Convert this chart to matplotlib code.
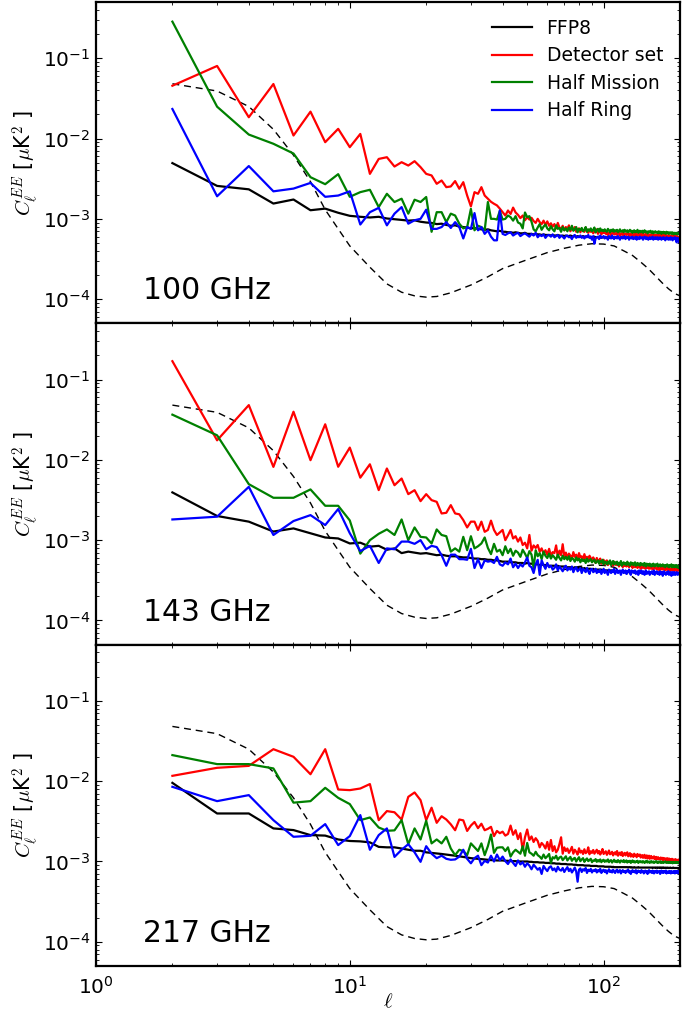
import numpy as np
import matplotlib
matplotlib.use("Agg")
import matplotlib.pyplot as plt

# all spectra below are in units of 1e-4 uK^2, one value per multipole l = 2..200
UNIT = 1e-4

# 100 GHz
ffp8_100 = [
    49.4, 25.7, 23.3, 15.5, 17.4, 12.8, 13.4, 11.9, 10.9, 10.6,
    10.4, 10.6, 10.1, 9.9, 9.7, 9.5, 9.6, 9.2, 9.0, 8.9,
    8.6, 8.7, 8.4, 8.2, 8.3, 8.0, 7.9, 7.8, 7.6, 7.7,
    7.5, 7.4, 7.3, 7.4, 7.2, 7.1, 7.0, 7.1, 6.9, 6.9,
    6.8, 6.8, 6.7, 6.8, 6.7, 6.6, 6.6, 6.7, 6.5, 6.5,
    6.5, 6.4, 6.5, 6.4, 6.4, 6.3, 6.4, 6.3, 6.3, 6.3,
    6.2, 6.3, 6.2, 6.2, 6.3, 6.2, 6.1, 6.2, 6.1, 6.2,
    6.1, 6.1, 6.2, 6.1, 6.0, 6.1, 6.0, 6.1, 6.0, 6.0,
    6.0, 6.1, 6.0, 5.9, 6.0, 6.0, 5.9, 6.0, 5.9, 5.9,
    6.0, 5.9, 5.9, 5.9, 6.0, 5.9, 5.8, 5.9, 5.9, 5.8,
    5.9, 5.8, 5.9, 5.8, 5.9, 5.8, 5.8, 5.9, 5.8, 5.8,
    5.8, 5.9, 5.8, 5.8, 5.8, 5.9, 5.8, 5.8, 5.8, 5.8,
    5.9, 5.8, 5.8, 5.8, 5.9, 5.8, 5.8, 5.9, 5.8, 5.8,
    5.8, 5.9, 5.8, 5.8, 5.9, 5.8, 5.8, 5.8, 5.9, 5.8,
    5.8, 5.9, 5.8, 5.8, 5.8, 5.9, 5.8, 5.8, 5.9, 5.8,
    5.8, 5.8, 5.9, 5.8, 5.8, 5.9, 5.8, 5.8, 5.8, 5.9,
    5.8, 5.8, 5.9, 5.8, 5.8, 5.8, 5.9, 5.8, 5.8, 5.9,
    5.8, 5.8, 5.8, 5.9, 5.8, 5.8, 5.9, 5.8, 5.8, 5.8,
    5.9, 5.8, 5.8, 5.9, 5.8, 5.8, 5.8, 5.9, 5.8, 5.8,
    5.9, 5.8, 5.8, 5.8, 5.9, 5.8, 5.8, 5.9, 5.8]
det_100 = [
    454, 800, 184, 477, 109, 216, 90, 132, 78, 114,
    36.3, 55.7, 58.5, 44.8, 50.7, 46.1, 52.2, 44.0, 36.3, 34.7,
    27.3, 30.0, 24.8, 25.3, 29.5, 23.7, 28.6, 19.5, 14.3, 21.5,
    20.5, 24.8, 19.5, 17.8, 16.3, 15.4, 14.7, 13.4, 12.1, 11.0,
    12.7, 11.5, 13.8, 12.0, 11.2, 10.2, 11.0, 9.6, 10.5, 9.8,
    10.3, 9.4, 8.9, 10.0, 9.1, 8.6, 9.5, 8.4, 9.3, 8.2,
    8.8, 8.0, 8.6, 7.6, 8.9, 7.8, 7.4, 8.2, 7.2, 7.9,
    7.5, 8.3, 7.0, 7.7, 7.3, 7.9, 6.9, 7.4, 7.6, 6.8,
    7.5, 7.1, 6.9, 7.8, 7.0, 6.7, 7.3, 6.9, 7.2, 6.6,
    7.0, 6.8, 7.4, 6.5, 6.9, 7.1, 6.4, 6.8, 6.7, 7.0,
    6.5, 6.9, 6.3, 6.7, 6.8, 6.2, 6.6, 7.0, 6.4, 6.5,
    6.7, 6.3, 6.6, 6.9, 6.2, 6.5, 6.4, 6.8, 6.1, 6.5,
    6.6, 6.3, 6.4, 6.7, 6.2, 6.5, 6.3, 6.6, 6.0, 6.4,
    6.5, 6.2, 6.6, 6.3, 6.1, 6.5, 6.4, 6.2, 6.6, 6.1,
    6.3, 6.5, 6.0, 6.4, 6.2, 6.5, 6.1, 6.3, 6.4, 6.0,
    6.4, 6.2, 6.3, 6.5, 6.0, 6.2, 6.4, 6.1, 6.3, 6.2,
    6.0, 6.4, 6.2, 6.1, 6.3, 6.0, 6.2, 6.4, 5.9, 6.2,
    6.3, 6.0, 6.1, 6.3, 5.9, 6.2, 6.1, 6.0, 6.3, 5.9,
    6.1, 6.2, 5.9, 6.0, 6.2, 5.8, 6.1, 6.0, 5.9, 6.1,
    5.8, 6.0, 6.1, 5.7, 6.0, 5.9, 5.8, 6.0, 5.9]
hm_100 = [
    2850, 249, 112, 86, 65, 33, 27, 36, 18.8, 21.5,
    23.0, 14.0, 20.5, 16.2, 17.8, 11.6, 17.3, 16.2, 18.7, 6.9,
    12.1, 12.1, 9.1, 11.6, 11.0, 8.7, 7.6, 7.9, 13.3, 7.2,
    8.2, 7.9, 7.2, 16.2, 10.0, 10.0, 9.8, 12.5, 9.8, 10.0,
    11.0, 10.5, 9.5, 10.8, 9.0, 8.7, 7.6, 12.0, 10.5, 10.8,
    9.2, 7.4, 7.0, 7.8, 8.6, 7.3, 8.0, 8.5, 7.6, 7.2,
    8.1, 7.4, 7.0, 8.3, 7.5, 7.7, 6.9, 7.9, 7.2, 7.6,
    7.0, 7.8, 7.3, 8.2, 7.1, 7.4, 7.9, 6.8, 7.5, 7.2,
    7.7, 7.0, 7.3, 7.9, 6.9, 7.4, 7.1, 7.6, 7.0, 7.3,
    7.8, 6.8, 7.2, 7.5, 6.9, 7.6, 7.1, 7.3, 7.0, 7.4,
    7.1, 6.9, 7.5, 7.2, 6.8, 7.3, 7.0, 7.4, 6.9, 7.2,
    7.0, 7.3, 6.8, 7.1, 7.4, 6.9, 7.0, 7.2, 6.8, 7.3,
    7.1, 6.9, 7.2, 6.8, 7.0, 7.3, 6.9, 7.1, 6.7, 7.0,
    7.2, 6.8, 7.0, 6.9, 7.3, 6.7, 7.0, 7.1, 6.8, 6.9,
    7.1, 6.7, 6.9, 7.2, 6.8, 7.0, 6.9, 6.6, 7.0, 6.8,
    6.9, 7.1, 6.7, 6.8, 7.0, 6.6, 6.9, 6.8, 7.0, 6.7,
    6.8, 6.9, 6.6, 7.0, 6.7, 6.8, 6.9, 6.5, 6.8, 6.7,
    6.9, 6.6, 6.8, 6.7, 6.5, 6.9, 6.7, 6.6, 6.8, 6.5,
    6.7, 6.8, 6.6, 6.5, 6.8, 6.6, 6.7, 6.4, 6.7, 6.6,
    6.5, 6.7, 6.6, 6.4, 6.6, 6.5, 6.7, 6.4, 6.5]
hr_100 = [
    233, 19.1, 45.4, 22.0, 23.8, 28.0, 18.8, 19.5, 22.0, 8.5,
    12.1, 13.7, 8.3, 11.6, 14.0, 8.7, 9.6, 10.0, 13.0, 7.5,
    7.5, 7.9, 9.1, 7.7, 9.1, 7.9, 5.7, 7.9, 7.5, 11.8,
    7.2, 7.9, 6.5, 7.2, 6.0, 5.4, 5.4, 12.7, 6.5, 6.3,
    6.6, 6.8, 6.2, 6.5, 6.7, 6.1, 6.4, 6.6, 6.3, 6.0,
    6.5, 6.2, 6.7, 5.9, 6.3, 6.1, 6.4, 5.8, 6.2, 6.3,
    6.0, 6.4, 5.9, 6.1, 6.3, 5.8, 6.2, 6.0, 5.7, 6.1,
    6.2, 5.9, 6.0, 5.6, 6.1, 6.3, 5.8, 6.0, 5.9, 6.2,
    5.8, 6.0, 5.7, 6.1, 5.9, 6.3, 5.8, 6.0, 5.5, 6.1,
    4.9, 5.7, 5.9, 6.0, 5.6, 6.2, 5.8, 5.9, 6.1, 5.7,
    6.0, 5.8, 5.5, 6.1, 5.9, 5.7, 6.2, 5.8, 5.6, 6.0,
    5.9, 5.7, 6.1, 5.8, 5.5, 5.9, 6.0, 5.7, 5.8, 6.1,
    5.6, 5.9, 5.8, 6.0, 5.5, 5.8, 5.9, 5.7, 6.0, 5.6,
    5.8, 5.7, 6.0, 5.5, 5.9, 5.8, 5.6, 6.0, 5.7, 5.8,
    5.9, 5.5, 5.7, 6.0, 5.8, 5.6, 5.9, 5.7, 5.5, 5.8,
    5.9, 5.6, 5.8, 5.7, 6.0, 5.5, 5.8, 5.7, 5.9, 5.6,
    5.7, 5.9, 5.5, 5.8, 5.6, 5.9, 5.7, 5.5, 5.8, 5.7,
    5.9, 5.6, 5.8, 5.4, 5.7, 5.9, 5.6, 5.8, 5.5, 5.7,
    5.8, 5.5, 5.9, 5.6, 5.7, 5.4, 5.8, 5.6, 5.7, 5.9,
    5.5, 5.7, 5.1, 5.8, 5.6, 5.4, 5.7, 5.0, 5.6]

# 143 GHz
ffp8_143 = [
    39.3, 20.0, 17.0, 12.8, 14.0, 12.2, 10.8, 10.5, 9.1, 9.3,
    8.3, 8.5, 7.6, 7.9, 6.9, 7.2, 7.0, 6.8, 6.9, 6.7,
    6.5, 6.6, 6.4, 6.3, 6.3, 6.2, 6.1, 6.1, 6.0, 5.9,
    5.9, 5.8, 5.8, 5.7, 5.7, 5.6, 5.6, 5.5, 5.4, 5.4,
    5.4, 5.3, 5.3, 5.3, 5.2, 5.2, 5.2, 5.1, 5.2, 5.1,
    5.1, 5.0, 5.0, 5.0, 4.9, 5.0, 4.9, 4.9, 4.9, 4.8,
    4.8, 4.8, 4.8, 4.7, 4.8, 4.7, 4.7, 4.7, 4.7, 4.6,
    4.6, 4.6, 4.6, 4.6, 4.5, 4.6, 4.5, 4.5, 4.5, 4.5,
    4.5, 4.4, 4.5, 4.4, 4.4, 4.4, 4.4, 4.4, 4.3, 4.4,
    4.3, 4.3, 4.3, 4.3, 4.3, 4.3, 4.3, 4.2, 4.3, 4.2,
    4.2, 4.2, 4.2, 4.2, 4.2, 4.2, 4.2, 4.1, 4.2, 4.1,
    4.1, 4.1, 4.1, 4.1, 4.1, 4.1, 4.1, 4.1, 4.0, 4.1,
    4.0, 4.1, 4.0, 4.0, 4.1, 4.0, 4.0, 4.0, 4.0, 4.0,
    4.0, 4.0, 4.0, 3.9, 4.0, 4.0, 4.0, 3.9, 4.0, 4.0,
    3.9, 4.0, 3.9, 4.0, 3.9, 3.9, 4.0, 3.9, 3.9, 3.9,
    3.9, 3.9, 3.9, 3.9, 3.9, 3.9, 3.9, 3.9, 3.9, 3.9,
    3.9, 3.9, 3.8, 3.9, 3.9, 3.9, 3.8, 3.9, 3.9, 3.8,
    3.9, 3.8, 3.9, 3.8, 3.9, 3.8, 3.8, 3.9, 3.8, 3.8,
    3.8, 3.9, 3.8, 3.8, 3.8, 3.8, 3.9, 3.8, 3.8, 3.8,
    3.8, 3.8, 3.8, 3.8, 3.8, 3.8, 3.8, 3.8, 3.8]
det_143 = [
    1690, 175, 480, 81.7, 397, 99, 277, 82, 142, 60,
    88, 42, 78, 48.3, 58.5, 37.4, 41.9, 30.6, 37.4, 31.5,
    30.0, 21.5, 21.9, 27.3, 21.5, 21.0, 17.8, 14.4, 17.0, 17.0,
    13.4, 17.0, 12.7, 13.4, 17.5, 13.4, 11.6, 12.5, 13.4, 10.0,
    11.5, 13.4, 10.5, 11.2, 9.6, 10.8, 8.7, 9.3, 7.9, 11.6,
    7.4, 8.6, 8.0, 8.7, 7.2, 7.9, 6.8, 7.5, 6.6, 7.8,
    6.4, 7.1, 6.9, 8.6, 6.2, 7.4, 6.5, 8.9, 6.3, 7.0,
    6.0, 6.8, 6.4, 5.9, 7.1, 6.2, 6.6, 5.7, 6.9, 6.1,
    6.3, 5.6, 6.7, 5.9, 6.2, 5.5, 6.4, 6.0, 5.4, 6.1,
    5.7, 5.2, 6.0, 5.6, 5.3, 5.9, 5.1, 5.5, 5.7, 5.0,
    5.4, 5.6, 4.9, 5.3, 5.5, 5.0, 5.2, 4.8, 5.4, 5.1,
    4.9, 5.3, 5.0, 4.7, 5.2, 4.9, 5.1, 4.6, 5.0, 4.8,
    5.1, 4.7, 4.9, 5.2, 4.6, 4.9, 4.8, 5.0, 4.5, 4.8,
    4.9, 4.6, 5.0, 4.7, 4.5, 4.9, 4.7, 4.8, 4.4, 4.7,
    4.8, 4.5, 4.7, 4.9, 4.4, 4.6, 4.7, 4.5, 4.8, 4.4,
    4.6, 4.7, 4.4, 4.5, 4.8, 4.3, 4.6, 4.5, 4.7, 4.4,
    4.5, 4.3, 4.6, 4.7, 4.2, 4.5, 4.4, 4.6, 4.3, 4.5,
    4.4, 4.6, 4.2, 4.5, 4.3, 4.4, 4.6, 4.2, 4.4, 4.3,
    4.5, 4.1, 4.4, 4.3, 4.5, 4.2, 4.3, 4.4, 4.1, 4.4,
    4.3, 4.2, 4.5, 4.1, 4.3, 4.4, 4.2, 4.3, 4.4]
hm_143 = [
    365, 202, 49.8, 33.7, 33.7, 42.8, 26.8, 26.8, 17.6, 6.8,
    10.0, 12.0, 13.6, 11.6, 18.1, 10.0, 14.4, 11.0, 10.8, 9.1,
    13.6, 11.6, 11.2, 7.2, 7.9, 7.2, 11.0, 7.5, 11.2, 7.9,
    8.4, 9.1, 10.8, 8.0, 6.7, 9.0, 7.2, 7.6, 6.5, 8.4,
    6.9, 7.8, 6.4, 7.4, 7.0, 6.2, 7.6, 6.8, 6.0, 7.3,
    6.6, 4.5, 7.5, 6.3, 6.9, 5.8, 7.2, 6.4, 6.0, 6.8,
    5.9, 6.5, 6.1, 5.7, 6.6, 6.0, 5.6, 6.4, 5.8, 6.2,
    5.7, 6.3, 5.5, 6.0, 5.8, 5.4, 6.1, 5.6, 5.9, 5.3,
    5.8, 5.5, 5.7, 5.2, 5.9, 5.4, 5.6, 5.8, 5.3, 5.5,
    5.7, 5.2, 5.4, 5.6, 5.1, 5.5, 5.3, 5.7, 5.0, 5.4,
    5.3, 5.0, 5.4, 5.1, 5.6, 4.9, 5.2, 5.5, 5.0, 5.3,
    5.1, 5.4, 4.9, 5.2, 5.0, 5.5, 4.8, 5.1, 5.3, 5.0,
    5.2, 4.9, 5.4, 5.0, 5.1, 4.8, 5.3, 5.0, 5.2, 4.9,
    5.1, 5.3, 4.8, 5.0, 5.2, 4.9, 5.1, 4.8, 5.2, 5.0,
    4.9, 5.1, 4.8, 5.2, 5.0, 4.7, 5.1, 4.9, 5.0, 4.8,
    5.1, 4.9, 4.7, 5.0, 4.8, 5.1, 4.9, 4.7, 5.0, 4.8,
    4.9, 5.1, 4.7, 4.9, 4.8, 5.0, 4.7, 4.9, 4.8, 5.0,
    4.7, 4.9, 4.8, 4.6, 4.9, 4.8, 5.0, 4.7, 4.8, 4.6,
    4.9, 4.7, 4.8, 5.0, 4.6, 4.8, 4.7, 4.9, 4.6, 4.8,
    4.7, 4.9, 4.6, 4.8, 4.7, 4.5, 4.8, 4.7, 4.6]
hr_143 = [
    18.1, 19.6, 46.1, 11.6, 17.3, 20.5, 15.4, 24.4, 12.2, 7.3,
    8.5, 5.2, 7.9, 7.7, 9.6, 9.6, 9.0, 10.0, 7.7, 8.5,
    8.2, 6.5, 4.8, 6.6, 6.6, 5.8, 5.8, 5.7, 7.8, 4.5,
    5.8, 4.5, 5.6, 5.4, 5.5, 5.2, 6.2, 5.0, 4.8, 5.3,
    5.0, 5.9, 4.6, 5.1, 4.5, 5.0, 4.7, 5.3, 6.1, 4.8,
    4.6, 3.9, 5.0, 5.7, 3.7, 5.6, 4.9, 4.4, 5.2, 4.6,
    4.8, 4.3, 4.5, 5.0, 4.2, 4.7, 4.4, 4.1, 4.6, 4.8,
    4.2, 4.5, 4.3, 4.7, 4.0, 4.4, 4.6, 4.1, 4.3, 4.5,
    3.9, 4.4, 4.2, 4.0, 4.5, 4.1, 3.8, 4.3, 4.4, 4.0,
    4.1, 4.4, 3.9, 4.2, 4.0, 4.3, 3.8, 4.1, 4.4, 3.9,
    4.2, 4.0, 3.7, 4.3, 4.1, 3.9, 4.2, 4.0, 4.4, 3.8,
    4.1, 4.3, 3.9, 4.0, 4.2, 3.7, 4.1, 4.3, 3.9, 4.0,
    4.2, 3.8, 4.1, 4.0, 4.3, 3.9, 3.7, 4.2, 4.0, 4.1,
    3.9, 4.2, 3.8, 4.0, 4.1, 3.7, 4.2, 3.9, 4.0, 4.2,
    3.8, 4.0, 4.1, 3.7, 3.9, 4.2, 3.8, 4.0, 3.9, 4.1,
    3.7, 4.0, 3.9, 4.1, 3.8, 3.9, 4.2, 3.7, 4.0, 3.9,
    4.1, 3.8, 3.9, 4.0, 3.7, 4.1, 3.8, 3.9, 4.0, 3.6,
    3.9, 4.1, 3.8, 3.9, 3.7, 4.0, 3.9, 3.8, 4.1, 3.7,
    3.9, 3.8, 4.0, 3.6, 3.9, 4.0, 3.8, 3.7, 4.0, 3.9,
    3.7, 3.9, 4.0, 3.8, 3.7, 3.9, 3.8, 4.0, 3.8]

# 217 GHz
ffp8_217 = [
    95.2, 39.6, 39.6, 25.8, 24.6, 21.3, 21.0, 18.8, 18.0, 17.8,
    17.3, 15.2, 15.0, 15.0, 14.5, 14.0, 13.6, 13.6, 13.0, 12.8,
    12.6, 12.4, 12.2, 12.0, 11.8, 11.6, 11.4, 11.2, 11.0, 10.9,
    10.8, 10.7, 10.6, 10.5, 10.4, 10.4, 10.3, 10.3, 10.3, 10.2,
    10.2, 10.1, 10.1, 10.1, 10.0, 10.0, 10.0, 10.0, 10.0, 9.9,
    9.9, 9.8, 9.8, 9.8, 9.7, 9.7, 9.7, 9.6, 9.6, 9.6,
    9.5, 9.5, 9.5, 9.4, 9.4, 9.4, 9.3, 9.3, 9.3, 9.3,
    9.2, 9.2, 9.2, 9.2, 9.1, 9.1, 9.1, 9.0, 9.0, 9.0,
    9.0, 9.0, 8.9, 8.9, 8.9, 8.9, 8.9, 8.8, 8.8, 8.8,
    8.8, 8.8, 8.8, 8.7, 8.7, 8.7, 8.7, 8.7, 8.7, 8.6,
    8.6, 8.6, 8.6, 8.6, 8.6, 8.6, 8.5, 8.6, 8.5, 8.5,
    8.5, 8.5, 8.5, 8.5, 8.5, 8.5, 8.5, 8.5, 8.5, 8.5,
    8.5, 8.5, 8.5, 8.4, 8.5, 8.5, 8.4, 8.5, 8.4, 8.4,
    8.5, 8.4, 8.4, 8.4, 8.4, 8.5, 8.4, 8.4, 8.4, 8.4,
    8.4, 8.4, 8.4, 8.4, 8.4, 8.4, 8.4, 8.4, 8.4, 8.4,
    8.4, 8.4, 8.4, 8.4, 8.3, 8.4, 8.4, 8.4, 8.3, 8.4,
    8.4, 8.3, 8.4, 8.4, 8.3, 8.4, 8.3, 8.4, 8.3, 8.4,
    8.3, 8.4, 8.3, 8.3, 8.4, 8.3, 8.3, 8.4, 8.3, 8.3,
    8.3, 8.4, 8.3, 8.3, 8.3, 8.3, 8.4, 8.3, 8.3, 8.3,
    8.3, 8.3, 8.3, 8.3, 8.3, 8.3, 8.3, 8.3, 8.3]
det_217 = [
    116.5, 146.6, 155, 250, 201, 122, 250, 78.7, 77.3, 81,
    92, 32.7, 42.4, 41, 33.3, 63.8, 72.3, 58, 32.7, 46.7,
    30.3, 36.6, 33.3, 29.0, 24.5, 33.3, 32.5, 24.0, 28.0, 31.0,
    26.0, 29.5, 24.5, 25.5, 27.0, 20.7, 24.0, 22.5, 23.5, 21.0,
    22.0, 28.0, 21.5, 24.5, 19.0, 22.5, 13.8, 20.0, 25.0, 18.5,
    20.5, 17.5, 19.5, 18.0, 15.0, 17.0, 16.0, 14.5, 17.5, 14.0,
    18.5, 13.5, 15.5, 13.0, 14.0, 16.5, 20.0, 12.5, 15.0, 13.5,
    14.5, 12.8, 13.8, 15.2, 12.5, 14.0, 13.2, 12.2, 14.6, 12.9,
    13.6, 12.4, 14.2, 12.7, 13.1, 15.0, 12.3, 13.4, 12.8, 13.9,
    12.5, 13.2, 14.0, 12.6, 13.5, 12.2, 13.0, 14.3, 12.4, 12.9,
    13.4, 12.1, 12.8, 13.7, 12.3, 12.6, 13.2, 11.9, 12.7, 13.0,
    12.2, 13.5, 11.8, 12.5, 12.9, 12.0, 13.1, 11.7, 12.4, 12.8,
    11.9, 12.6, 13.0, 11.6, 12.2, 12.7, 11.5, 12.3, 12.0, 11.4,
    12.5, 11.8, 12.1, 11.3, 12.4, 11.7, 11.9, 12.2, 11.2, 11.8,
    12.0, 11.1, 11.7, 12.1, 11.0, 11.6, 11.9, 10.9, 11.5, 11.8,
    10.8, 11.4, 11.7, 10.9, 11.3, 11.0, 11.6, 10.7, 11.2, 11.4,
    10.6, 11.1, 11.3, 10.8, 11.0, 10.5, 11.2, 10.9, 10.6, 11.1,
    10.4, 10.9, 11.0, 10.5, 10.8, 10.3, 11.0, 10.6, 10.4, 10.9,
    10.2, 10.7, 10.5, 10.3, 10.8, 10.1, 10.5, 10.6, 10.2, 10.4,
    10.7, 10.0, 10.4, 10.5, 10.1, 10.3, 10.6, 10.0, 10.4]
hm_217 = [
    211, 163, 163, 144, 54, 56.4, 82.6, 62, 51.8, 32.7,
    35.3, 26.5, 24.1, 24.4, 32.7, 16.4, 25.8, 18.8, 32.1, 16.8,
    18.8, 16.8, 20.3, 14.5, 12.0, 14.0, 13.5, 12.0, 16.8, 15.0,
    13.5, 16.8, 12.0, 15.5, 21.7, 12.8, 14.8, 15.0, 15.0, 13.5,
    15.0, 11.5, 13.0, 14.0, 13.2, 12.5, 15.5, 11.8, 17.0, 13.0,
    12.5, 11.8, 13.2, 12.0, 11.5, 10.8, 12.2, 11.0, 11.6, 12.4,
    9.6, 11.3, 10.9, 11.8, 10.5, 11.2, 11.5, 10.4, 11.0, 11.6,
    10.3, 10.9, 11.4, 10.2, 10.8, 11.1, 10.0, 10.7, 11.3, 10.1,
    10.6, 11.0, 9.9, 10.5, 10.9, 10.1, 10.4, 10.8, 9.8, 10.3,
    10.2, 10.7, 9.9, 10.4, 10.0, 10.6, 9.8, 10.3, 10.5, 9.9,
    10.3, 10.0, 10.6, 9.8, 10.2, 10.4, 9.7, 10.1, 10.5, 9.9,
    10.2, 9.8, 10.4, 10.0, 9.7, 10.3, 10.1, 9.9, 10.4, 9.8,
    10.0, 10.3, 9.7, 10.1, 9.9, 10.2, 9.6, 10.0, 10.3, 9.8,
    10.1, 9.7, 10.0, 9.9, 10.2, 9.6, 9.9, 10.1, 9.8, 10.0,
    9.7, 10.1, 9.9, 9.6, 10.0, 9.8, 10.2, 9.7, 9.9, 10.0,
    9.6, 9.9, 10.1, 9.7, 9.8, 10.0, 9.6, 9.9, 9.8, 10.1,
    9.7, 9.9, 9.6, 10.0, 9.8, 9.7, 10.0, 9.6, 9.9, 9.8,
    9.6, 9.9, 9.8, 10.0, 9.7, 9.6, 9.9, 9.8, 9.6, 9.9,
    9.8, 9.6, 9.9, 9.7, 9.8, 9.5, 9.9, 9.7, 9.6, 9.8,
    9.7, 9.9, 9.6, 9.8, 9.7, 9.5, 9.8, 9.7, 9.6]
hr_217 = [
    85, 56.4, 67, 32.7, 20.3, 20.9, 29.2, 16.0, 20.7, 37.8,
    14.0, 21.3, 25.8, 11.4, 14.0, 16.4, 13.0, 9.9, 15.5, 12.5,
    11.0, 11.8, 10.8, 10.5, 10.6, 11.5, 14.0, 10.8, 9.5, 11.0,
    11.8, 9.0, 10.2, 9.7, 11.8, 10.0, 12.2, 10.4, 11.5, 10.1,
    9.3, 10.6, 9.6, 8.8, 10.3, 9.2, 9.8, 8.6, 9.5, 8.9,
    8.0, 9.1, 8.5, 7.9, 8.3, 7.0, 8.8, 8.1, 7.6, 8.4,
    8.7, 7.8, 8.2, 7.5, 8.6, 7.9, 7.7, 8.3, 7.4, 8.0,
    8.5, 7.6, 8.1, 7.3, 7.8, 8.4, 7.5, 5.6, 7.9, 8.2,
    7.4, 8.0, 7.7, 8.3, 7.2, 7.9, 7.6, 8.1, 7.3, 7.8,
    7.6, 8.0, 7.3, 7.8, 7.5, 8.1, 7.2, 7.7, 7.9, 7.4,
    7.8, 7.1, 7.6, 8.0, 7.4, 7.7, 7.3, 7.9, 7.5, 7.2,
    7.7, 7.9, 7.3, 7.6, 7.8, 7.1, 7.5, 7.8, 7.4, 7.6,
    7.2, 7.7, 7.5, 7.9, 7.3, 7.6, 7.0, 7.5, 7.8, 7.4,
    7.6, 7.3, 7.8, 7.1, 7.5, 7.7, 7.4, 7.6, 7.2, 7.8,
    7.4, 7.6, 7.1, 7.5, 7.7, 7.3, 7.6, 7.0, 7.4, 7.8,
    7.3, 7.5, 7.6, 7.2, 7.7, 7.4, 7.1, 7.6, 7.5, 7.3,
    7.7, 7.2, 7.5, 7.4, 7.6, 7.0, 7.4, 7.7, 7.3, 7.5,
    7.2, 7.6, 7.4, 7.3, 7.7, 7.1, 7.5, 7.4, 7.2, 7.6,
    7.3, 7.5, 7.1, 7.6, 7.4, 7.2, 7.5, 7.3, 7.6, 7.1,
    7.4, 7.6, 7.2, 7.5, 7.3, 7.6, 7.1, 7.4, 7.5]

# fiducial EE model (dashed), sampled at these multipoles
theory_ell = [2, 3, 4, 5, 6, 7, 8, 9, 10, 12, 14, 16, 18, 20, 22, 25, 30, 35, 40,
              50, 60, 70, 80, 90, 100, 110, 120, 130, 140, 150, 160, 170, 180, 190, 200]
theory_cl = [480, 390, 250, 130, 62, 29, 13, 7.5, 4.6, 2.5, 1.55, 1.22, 1.1, 1.06, 1.08,
             1.2, 1.5, 1.9, 2.4, 3.1, 3.8, 4.3, 4.7, 4.9, 4.85, 4.6, 4.0, 3.5, 2.9,
             2.4, 1.95, 1.6, 1.35, 1.18, 1.1]

freqs = ['100 GHz', '143 GHz', '217 GHz']
labels = ['FFP8', 'Detector set', 'Half Mission', 'Half Ring']
colors = ['k', 'r', 'g', 'b']
spectra = [
    [ffp8_100, det_100, hm_100, hr_100],
    [ffp8_143, det_143, hm_143, hr_143],
    [ffp8_217, det_217, hm_217, hr_217],
]

plt.rcParams['mathtext.fontset'] = 'cm'
plt.rcParams['xtick.direction'] = 'in'
plt.rcParams['ytick.direction'] = 'in'
plt.rcParams['xtick.top'] = True
plt.rcParams['ytick.right'] = True
plt.rcParams['xtick.major.size'] = 4
plt.rcParams['ytick.major.size'] = 4
plt.rcParams['xtick.minor.size'] = 2
plt.rcParams['ytick.minor.size'] = 2
plt.rcParams['axes.linewidth'] = 1.6


def main():
    fig, axes = plt.subplots(3, 1, figsize=(6.96, 10.14), dpi=100, sharex=True)
    fig.subplots_adjust(left=96 / 696., right=680 / 696., top=0.998,
                        bottom=1 - 966 / 1014., hspace=0)

    for ax, freq, sets in zip(axes, freqs, spectra):
        ax.plot(theory_ell, np.array(theory_cl) * UNIT, color='k',
                ls=(0, (5, 3.5)), lw=1.0, zorder=1)
        for vals, lab, col in zip(sets, labels, colors):
            ell = np.arange(2, 2 + len(vals))
            ax.plot(ell, np.array(vals) * UNIT, color=col, lw=1.6, label=lab)
        ax.set_xscale('log')
        ax.set_yscale('log')
        ax.set_xlim(1, 200)
        ax.set_ylim(5e-5, 0.5)
        ax.tick_params(axis='both', which='major', labelsize=14.5)
        ax.tick_params(axis='y', which='both', pad=4)
        ax.tick_params(axis='x', which='both', pad=7)
        ax.set_ylabel(r'$C_{\ell}^{EE}$ [$\mu$K$^2$ ]', fontsize=15)
        ax.yaxis.set_label_coords(-0.094, 0.5)
        ax.text(0.08, 0.075, freq, transform=ax.transAxes, fontsize=21.5)

    axes[0].legend(loc='upper right', frameon=False, fontsize=13.5,
                   handlelength=2.1, labelspacing=0.45)
    axes[-1].set_xlabel(r'$\ell$', fontsize=15)
    axes[-1].xaxis.set_label_coords(0.5, -0.08)

    fig.savefig('out.png', dpi=100)


if __name__ == "__main__":
    main()
